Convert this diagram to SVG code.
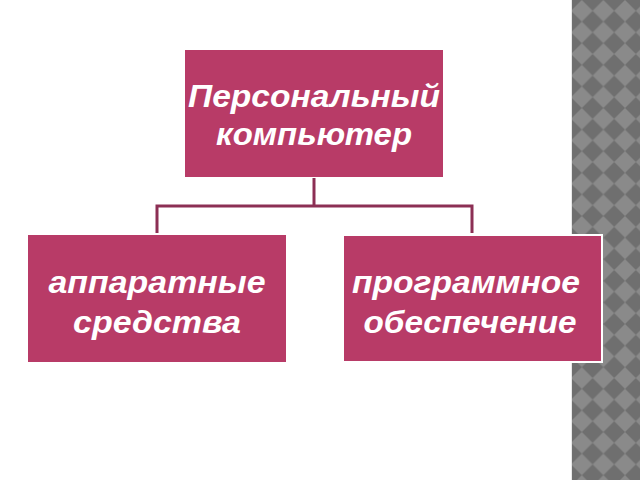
<svg xmlns="http://www.w3.org/2000/svg" width="640" height="480" viewBox="0 0 640 480">
<defs>
<pattern id="chk" width="21.6" height="21.6" patternUnits="userSpaceOnUse" x="571" y="0">
<rect width="21.6" height="21.6" fill="#6f6f6f"/>
<polygon points="10.8,0 21.6,10.8 10.8,21.6 0,10.8" fill="#8a8a8a"/>
</pattern>
<style>
.box{fill:#b83b67;}
.lbl{font-family:"Liberation Sans",Arial,sans-serif;font-weight:bold;font-style:italic;font-size:32px;fill:#ffffff;text-anchor:middle;}
.con{stroke:#8c2f54;stroke-width:3;fill:none;}
</style>
</defs>
<rect width="640" height="480" fill="#ffffff"/>
<rect x="571" y="0" width="69" height="480" fill="url(#chk)"/>
<line x1="571.5" y1="0" x2="571.5" y2="480" stroke="#e8e8e8" stroke-width="1"/>
<g id="connectors">
<polyline class="con" points="314,178 314,206"/>
<polyline class="con" points="157,233 157,206 472,206 472,233"/>
</g>
<g id="node-pc">
<rect class="box" x="185" y="50" width="258" height="127"/>
<text class="lbl" x="314" y="107" textLength="252" lengthAdjust="spacingAndGlyphs">Персональный</text>
<text class="lbl" x="314" y="145" textLength="196" lengthAdjust="spacingAndGlyphs">компьютер</text>
</g>
<g id="node-hw">
<rect class="box" x="28" y="235" width="258" height="127"/>
<text class="lbl" x="157" y="293" textLength="217" lengthAdjust="spacingAndGlyphs">аппаратные</text>
<text class="lbl" x="157" y="333" textLength="168" lengthAdjust="spacingAndGlyphs">средства</text>
</g>
<g id="node-sw">
<rect class="box" x="343" y="235" width="259" height="127" stroke="#ffffff" stroke-width="2"/>
<text class="lbl" x="466" y="293" textLength="228" lengthAdjust="spacingAndGlyphs">программное</text>
<text class="lbl" x="470" y="333" textLength="213" lengthAdjust="spacingAndGlyphs">обеспечение</text>
</g>
</svg>
